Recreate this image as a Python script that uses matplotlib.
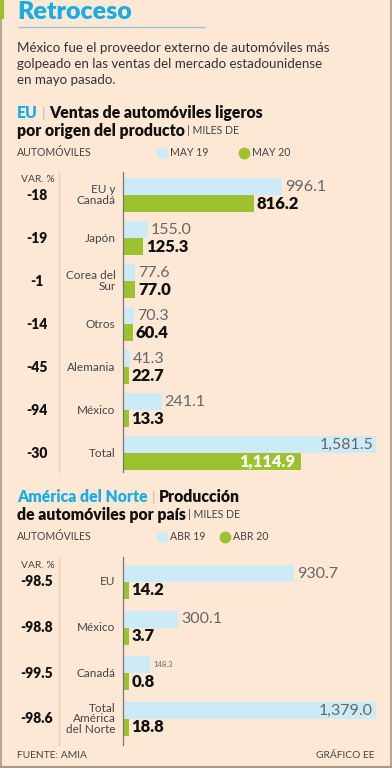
import matplotlib.pyplot as plt
from matplotlib.lines import Line2D
import numpy as np

plt.rcParams['font.family'] = ['Lato', 'DejaVu Sans']

# chart 1 data: light vehicle sales by origin (thousands)
cats1 = ['EU y\nCanadá', 'Japón', 'Corea del\nSur', 'Otros', 'Alemania', 'México', 'Total']
may19 = [996.1, 155.0, 77.6, 70.3, 41.3, 241.1, 1581.5]
may20 = [816.2, 125.3, 77.0, 60.4, 22.7, 13.3, 1114.9]
var1 = ['-18', '-19', '-1', '-14', '-45', '-94', '-30']

# chart 2 data: production by country (thousands)
cats2 = ['EU', 'México', 'Canadá', 'Total\nAmérica\ndel Norte']
abr19 = [930.7, 300.1, 148.3, 1379.0]
abr20 = [14.2, 3.7, 0.8, 18.8]
var2 = ['-98.5', '-98.8', '-99.5', '-98.6']

BG = '#FDE8D6'
BLUE = '#1AADE4'
LBLUE = '#CDEBF7'
GREEN = '#9DC22F'
LINE = '#A89888'
TXT = '#444444'

W, H = 392, 768
fig = plt.figure(figsize=(W / 100, H / 100), dpi=100, facecolor=BG)


def px(x, y):
    return x / W, 1 - y / H


def txt(x, y, s, **kw):
    kw.setdefault('va', 'center')
    return fig.text(*px(x, y), s, **kw)


def vline(x, y0, y1, color, lw=1.0):
    fig.add_artist(Line2D([x / W, x / W], [1 - y0 / H, 1 - y1 / H], color=color, lw=lw,
                          transform=fig.transFigure))


def hline(x0, x1, y, color, lw=1.0):
    fig.add_artist(Line2D([x0 / W, x1 / W], [1 - y / H, 1 - y / H], color=color, lw=lw,
                          transform=fig.transFigure))


# frame
vline(0.5, 17, 768, LINE, 1.2)
vline(391, 0, 768, LINE, 1.2)
hline(0, 392, 767, LINE, 1.5)
vline(1.5, 0, 17, GREEN, 3)

# title block
txt(17, 12, 'Retroceso', color=BLUE, fontsize=18, fontweight='heavy')
hline(18, 205, 27, '#9DBFCF', 0.9)
sub = ['México fue el proveedor externo de automóviles más',
       'golpeado en las ventas del mercado estadounidense',
       'en mayo pasado.']
for i, s in enumerate(sub):
    txt(17, 48 + i * 16, s, color='#333333', fontsize=9.6)


def header(y, blue, rest1, line2, leg, xleg):
    t = txt(17, y, blue, color=BLUE, fontsize=11.3, fontweight='heavy')
    fig.canvas.draw()
    x = t.get_window_extent().x1 + 4
    txt(x, y, '|', color='#BBBBBB', fontsize=10)
    txt(x + 7, y, rest1, color='#111111', fontsize=11.3, fontweight='heavy')
    t2 = txt(17, y + 18, line2, color='#111111', fontsize=11.3, fontweight='heavy')
    fig.canvas.draw()
    x2 = t2.get_window_extent().x1 + 2
    txt(x2, y + 18, '| MILES DE', color=TXT, fontsize=7.6)
    txt(17, y + 40, 'AUTOMÓVILES', color=TXT, fontsize=7.6)
    for xc, col, lab in zip(xleg, [LBLUE, GREEN], leg):
        fig.add_artist(Line2D([xc / W], [1 - (y + 40) / H], marker='o', ms=7.5, color=col,
                              lw=0, transform=fig.transFigure))
        txt(xc + 8, y + 40, lab, color=TXT, fontsize=7.6)


header(113, 'EU', 'Ventas de automóviles ligeros', 'por origen del producto',
       ['MAY 19', 'MAY 20'], [162, 244])
header(497, 'América del Norte', 'Producción', 'de automóviles por país',
       ['ABR 19', 'ABR 20'], [162, 225])


def chart(top, bottom, cats, v1, v2, var, hb, ylim, small_idx=None):
    ax = fig.add_axes([123 / W, 1 - bottom / H, 253 / W, (bottom - top) / H])
    ax.set_facecolor('none')
    y = np.arange(len(cats))
    xmax = max(v1)
    # very small values get a minimum visible bar, as in the original
    shown2 = np.maximum(v2, xmax * 0.022)
    ax.barh(y - hb / 2, v1, height=hb, color=LBLUE)
    ax.barh(y + hb / 2, shown2, height=hb, color=GREEN)
    ax.set_xlim(0, xmax)
    ax.set_ylim(*ylim)
    ax.axis('off')
    vline(123, top, bottom, '#777777', 0.9)
    vline(59, top, bottom, '#E8CDB8', 1.0)
    off = xmax * 0.012
    last = len(cats) - 1
    for i in y:
        ax.text(-0.03, i, cats[i], transform=ax.get_yaxis_transform(), ha='right', va='center',
                fontsize=8.5, color=TXT, linespacing=0.95)
        ax.text(-0.34, i, var[i], transform=ax.get_yaxis_transform(), ha='center', va='center',
                fontsize=10, color='#111111', fontweight='heavy')
        lab1 = f'{v1[i]:,.1f}'
        lab2 = f'{v2[i]:,.1f}'
        if i == last:
            ax.text(v1[i] - off, i - hb / 2, lab1, ha='right', va='center', fontsize=11.5,
                    color='#666666')
        else:
            fs = 5.5 if i == small_idx else 11.5
            ax.text(v1[i] + off, i - hb / 2, lab1, ha='left', va='center', fontsize=fs,
                    color='#666666')
        if i == last and v2[i] > xmax * 0.5:
            ax.text(v2[i] - off * 2, i + hb / 2, lab2, ha='right', va='center', fontsize=12,
                    color='white', fontweight='heavy')
        else:
            ax.text(shown2[i] + off, i + hb / 2, lab2, ha='left', va='center', fontsize=12,
                    color='#111111', fontweight='heavy')
    return ax


ax1 = chart(172, 472, cats1, may19, may20, var1, 0.395, (6.44, -0.535))
txt(55, 180, 'VAR. %', color=TXT, fontsize=7.4, ha='right')

ax2 = chart(557, 745, cats2, abr19, abr20, var2, 0.37, (3.57, -0.547), small_idx=2)
txt(55, 565, 'VAR. %', color=TXT, fontsize=7.4, ha='right')

# footer
txt(17, 756, 'FUENTE: AMIA', color=TXT, fontsize=7.4)
txt(375, 756, 'GRÁFICO EE', color=TXT, fontsize=7.4, ha='right')

fig.savefig('out.png', dpi=100, facecolor=BG)
